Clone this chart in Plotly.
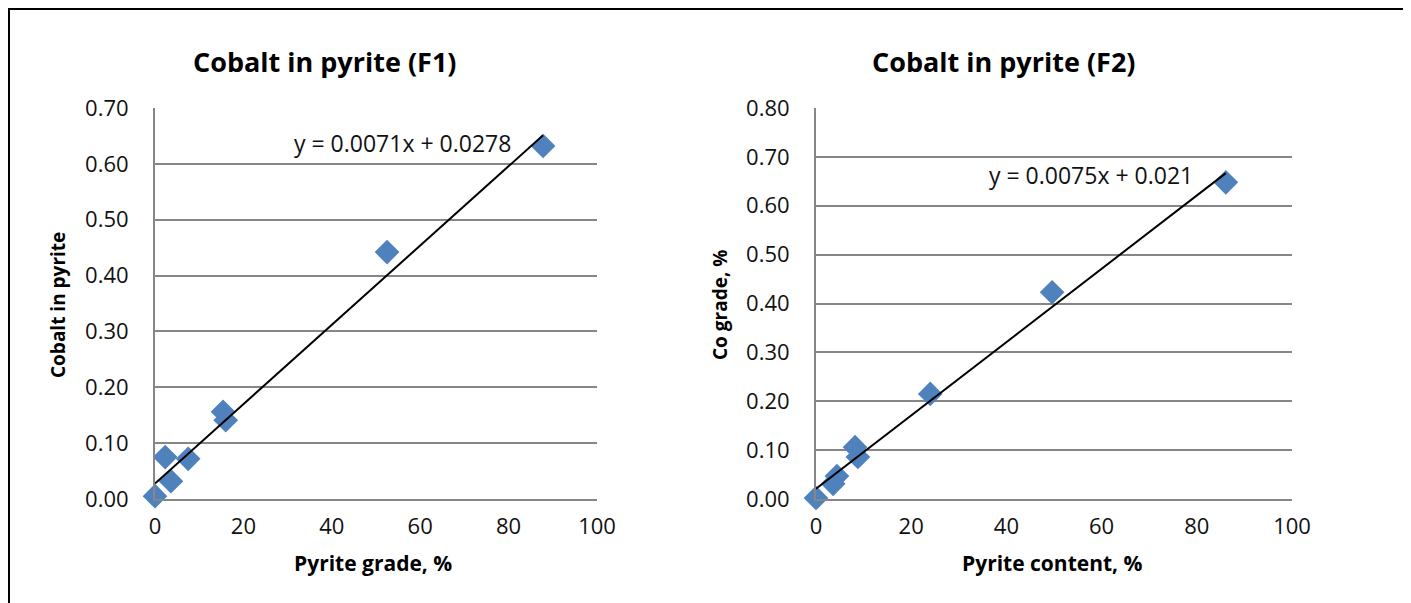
import numpy as np
import plotly.graph_objects as go

W, H = 1411, 603
OFF = 8  # page body margin

# ---- data ----
f1_pyrite = [0.0, 2.3, 3.6, 7.5, 15.4, 16.0, 52.5, 87.8]
f1_cobalt = [0.005, 0.075, 0.032, 0.072, 0.156, 0.141, 0.442, 0.632]
f1_slope, f1_intercept = 0.0071, 0.0278
f1_equation = "y = 0.0071x + 0.0278"

f2_pyrite = [0.0, 3.6, 4.4, 8.2, 8.8, 24.0, 49.6, 86.1]
f2_cobalt = [0.002, 0.031, 0.047, 0.106, 0.086, 0.215, 0.423, 0.648]
f2_slope, f2_intercept = 0.0075, 0.021
f2_equation = "y = 0.0075x + 0.021"

titles = ["Cobalt in pyrite (F1)", "Cobalt in pyrite (F2)"]
x_titles = ["Pyrite grade, %", "Pyrite content, %"]
y_titles = ["Cobalt in pyrite", "Co grade, %"]
y_max = [0.70, 0.80]

FONT = "Open Sans"
BLUE = "#4F81BD"
GRID = "#868686"


def px(x):
    return (x - OFF) / W


def py(y):
    return 1 - (y - OFF) / H


fig = go.Figure()

sets = [(f1_pyrite, f1_cobalt, f1_slope, f1_intercept, "x", "y"),
        (f2_pyrite, f2_cobalt, f2_slope, f2_intercept, "x2", "y2")]
for xs, ys, m, b, xa, ya in sets:
    fig.add_trace(go.Scatter(x=xs, y=ys, mode="markers", xaxis=xa, yaxis=ya,
                             marker=dict(symbol="diamond", size=19, color=BLUE),
                             cliponaxis=False, showlegend=False))
    tx = np.array([min(xs), max(xs)])
    fig.add_trace(go.Scatter(x=tx, y=m * tx + b, mode="lines", xaxis=xa, yaxis=ya,
                             line=dict(color="black", width=2),
                             cliponaxis=False, showlegend=False))

x_dom = [(155, 597), (816, 1292)]
y_dom = (499, 108)

axis_common = dict(showgrid=False, zeroline=False, showline=True, linecolor=GRID,
                   linewidth=2, ticks="", automargin=False,
                   tickfont=dict(family=FONT, size=22, color="#111"))
layout_axes = {}
for i, (x0, x1) in enumerate(x_dom):
    sfx = "" if i == 0 else str(i + 1)
    layout_axes["xaxis" + sfx] = dict(axis_common, domain=[px(x0), px(x1)], range=[0, 100],
                                      dtick=20, tick0=0, anchor="y" + sfx,
                                      ticklabelstandoff=7)
    layout_axes["yaxis" + sfx] = dict(axis_common, domain=[py(y_dom[0]), py(y_dom[1])],
                                      range=[0, y_max[i]], dtick=0.1, tick0=0,
                                      tickformat=".2f", anchor="x" + sfx,
                                      showgrid=True, gridcolor=GRID, gridwidth=2,
                                      ticklabelstandoff=20)

annots = []
title_x = [324, 1003]
xt_x = [373, 1052]
yt_x = [58, 720]
eq_pos = [(402, 143), (1091, 175)]
eqs = [f1_equation, f2_equation]
for i in range(2):
    annots.append(dict(text="<b>%s</b>" % titles[i], x=px(title_x[i]), y=py(61), xref="paper",
                       yref="paper", showarrow=False, xanchor="center", yanchor="middle",
                       font=dict(family=FONT, size=27, color="black")))
    annots.append(dict(text="<b>%s</b>" % x_titles[i], x=px(xt_x[i]), y=py(563), xref="paper",
                       yref="paper", showarrow=False, xanchor="center", yanchor="middle",
                       font=dict(family=FONT, size=21, color="black")))
    annots.append(dict(text="<b>%s</b>" % y_titles[i], x=px(yt_x[i]), y=py(305), xref="paper",
                       yref="paper", showarrow=False, xanchor="center", yanchor="middle",
                       textangle=-90, font=dict(family=FONT, size=19, color="black")))
    annots.append(dict(text=eqs[i], x=px(eq_pos[i][0]), y=py(eq_pos[i][1]), xref="paper",
                       yref="paper", showarrow=False, xanchor="center", yanchor="middle",
                       font=dict(family=FONT, size=23, color="#111")))

fig.update_layout(
    template="none",
    width=W, height=H, margin=dict(l=0, r=0, t=0, b=0, pad=0),
    paper_bgcolor="white", plot_bgcolor="white",
    annotations=annots,
    shapes=[dict(type="rect", xref="paper", yref="paper", x0=px(9), x1=px(1406),
                 y0=py(640), y1=py(9), line=dict(color="black", width=2))],
    **layout_axes,
)

fig.write_html("out.html")
